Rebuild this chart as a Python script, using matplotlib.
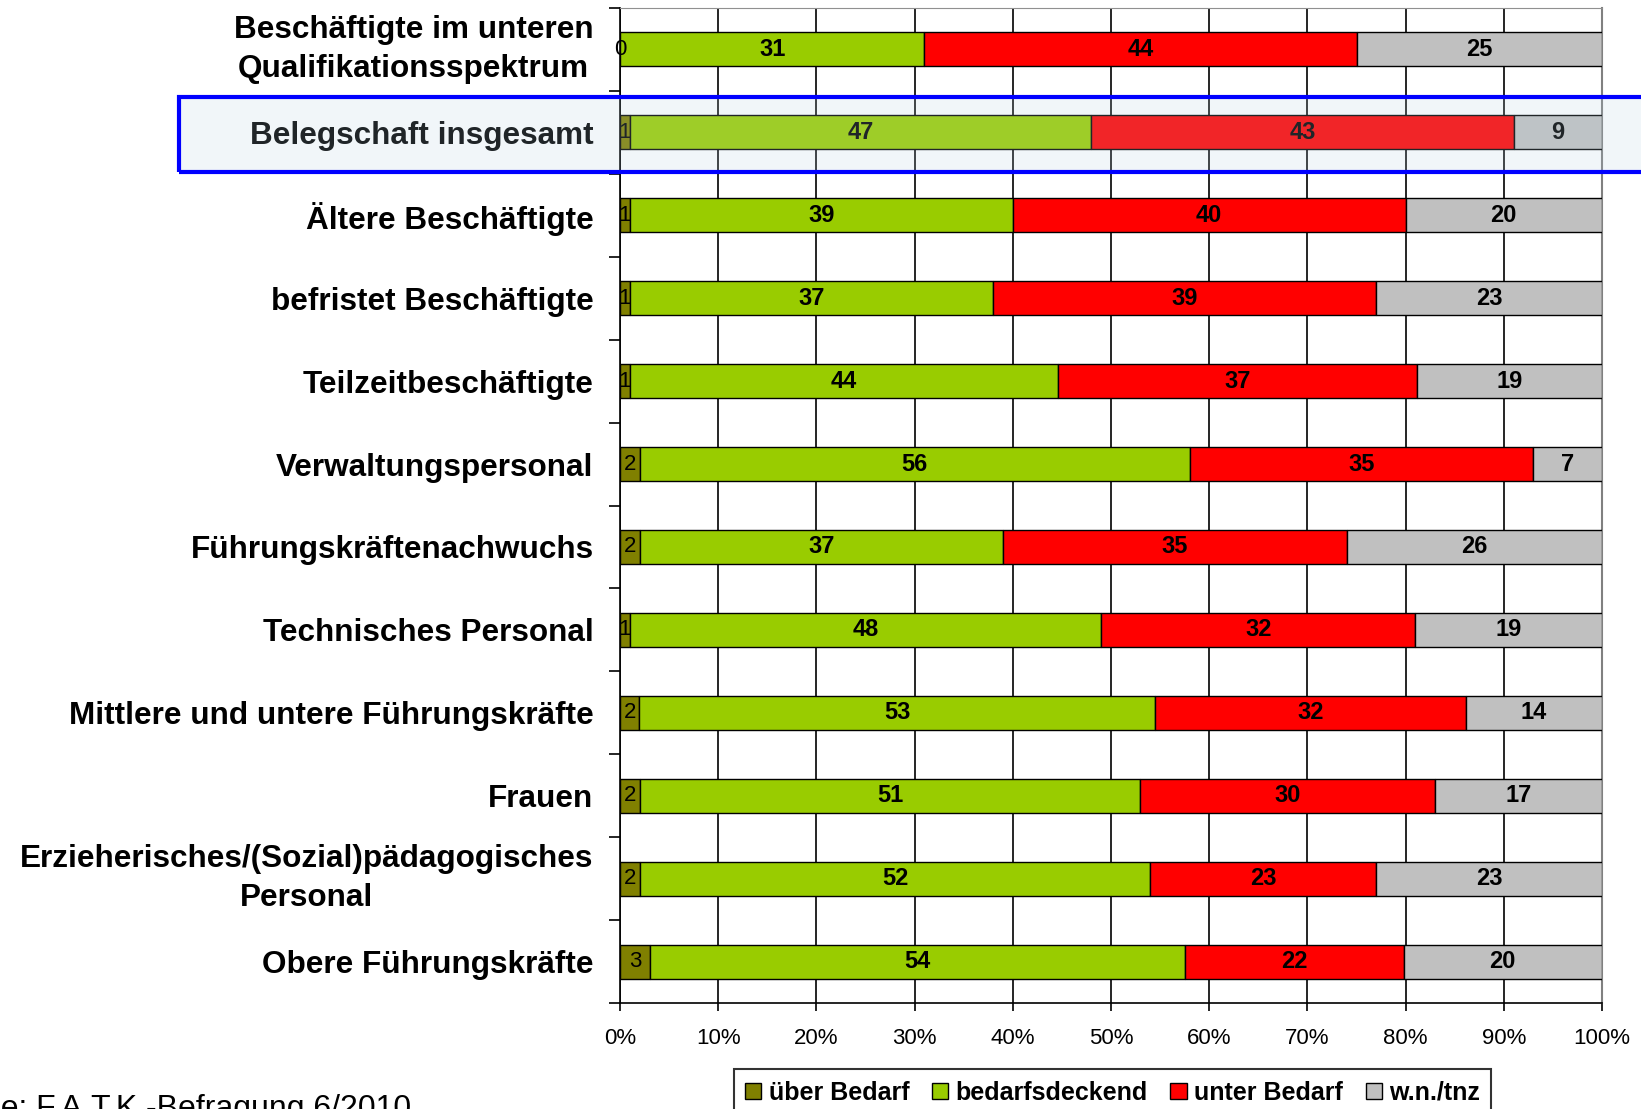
import numpy as np
import matplotlib
matplotlib.use("Agg")
import matplotlib.pyplot as plt
from matplotlib.patches import Rectangle

plt.rcParams['font.family'] = ['Liberation Sans', 'DejaVu Sans']

# categories, top to bottom
categories = [
    "Beschäftigte im unteren\nQualifikationsspektrum",
    "Belegschaft insgesamt",
    "Ältere Beschäftigte",
    "befristet Beschäftigte",
    "Teilzeitbeschäftigte",
    "Verwaltungspersonal",
    "Führungskräftenachwuchs",
    "Technisches Personal",
    "Mittlere und untere Führungskräfte",
    "Frauen",
    "Erzieherisches/(Sozial)pädagogisches\nPersonal",
    "Obere Führungskräfte",
]
ueber_bedarf = [0, 1, 1, 1, 1, 2, 2, 1, 2, 2, 2, 3]
bedarfsdeckend = [31, 47, 39, 37, 44, 56, 37, 48, 53, 51, 52, 54]
unter_bedarf = [44, 43, 40, 39, 37, 35, 35, 32, 32, 30, 23, 22]
wn_tnz = [25, 9, 20, 23, 19, 7, 26, 19, 14, 17, 23, 20]

series_names = ["über Bedarf", "bedarfsdeckend", "unter Bedarf", "w.n./tnz"]
colors = ["#808000", "#99CC00", "#FF0000", "#C0C0C0"]
xticks = [0, 10, 20, 30, 40, 50, 60, 70, 80, 90, 100]

data = np.array([ueber_bedarf, bedarfsdeckend, unter_bedarf, wn_tnz], dtype=float)
shares = data / data.sum(axis=0) * 100   # 100% stacked like Excel

fig = plt.figure(figsize=(16.41, 11.09), dpi=100)
W, H = 1641, 1109
ax = fig.add_axes([620 / W, 1 - 1003 / H, 982 / W, 995 / H])

y = np.arange(len(categories))
left = np.zeros(len(categories))
for i, name in enumerate(series_names):
    bars = ax.barh(y, shares[i], left=left, height=0.41, color=colors[i],
                   edgecolor="black", linewidth=1.0, label=name, zorder=3)
    for k in range(len(categories)):
        cx = left[k] + shares[i][k] / 2
        if i == 0:
            ax.text(cx, y[k], str(int(data[i][k])), ha="center", va="center",
                    fontsize=16, zorder=4)
        else:
            ax.text(cx, y[k], str(int(data[i][k])), ha="center", va="center",
                    fontsize=17, fontweight="bold", zorder=4)
    left = left + shares[i]

ax.set_xlim(0, 100)
ax.set_ylim(len(categories) - 0.5, -0.5)
ax.set_xticks(xticks)
ax.set_xticklabels([f"{v}%" for v in xticks], fontsize=16)
ax.set_yticks(y)
ax.set_yticklabels(categories, fontsize=22.7, fontweight="bold", linespacing=1.4)
for lbl in ax.get_yticklabels():
    lbl.set_multialignment("center")
    if "\n" in lbl.get_text():
        lbl.set_va("center")
ax.set_yticks(np.arange(-0.5, len(categories), 1), minor=True)
ax.tick_params(axis="y", which="major", length=0, pad=19)
ax.tick_params(axis="y", which="minor", length=8, width=1.2, direction="out")
ax.tick_params(axis="x", which="major", length=6, width=1.2, direction="out", pad=12)

ax.xaxis.grid(True, color="black", linewidth=1.2)
ax.set_axisbelow(True)
ax.spines["left"].set_linewidth(1.2)
ax.spines["bottom"].set_linewidth(1.2)
ax.spines["top"].set_color("#909090")
ax.spines["right"].set_color("#808080")
ax.spines["right"].set_linewidth(1.5)

leg = ax.legend(loc="upper center", bbox_to_anchor=(0.678, 0.047),
                bbox_transform=fig.transFigure, ncol=4, frameon=True,
                fancybox=False, edgecolor="black",
                prop={"weight": "bold", "size": 18},
                handlelength=0.65, handleheight=0.65, handletextpad=0.3,
                columnspacing=0.9, borderpad=0.45)
leg.get_frame().set_linewidth(1.5)

fig.text(411 / W, -8 / H, "Quelle: F.A.T.K.-Befragung 6/2010", ha="right",
         va="baseline", fontsize=23)

# highlighted row
fig.add_artist(Rectangle((179 / W, 1 - 172 / H), 1.2, 75 / H,
                         transform=fig.transFigure, facecolor=(181/255, 210/255, 227/255),
                         alpha=0.18, edgecolor="none", zorder=10))
fig.add_artist(Rectangle((179 / W, 1 - 172 / H), 1.2, 75 / H,
                         transform=fig.transFigure, facecolor="none",
                         edgecolor="#0000FF", linewidth=3, zorder=11))

fig.savefig("out.png", dpi=100)
